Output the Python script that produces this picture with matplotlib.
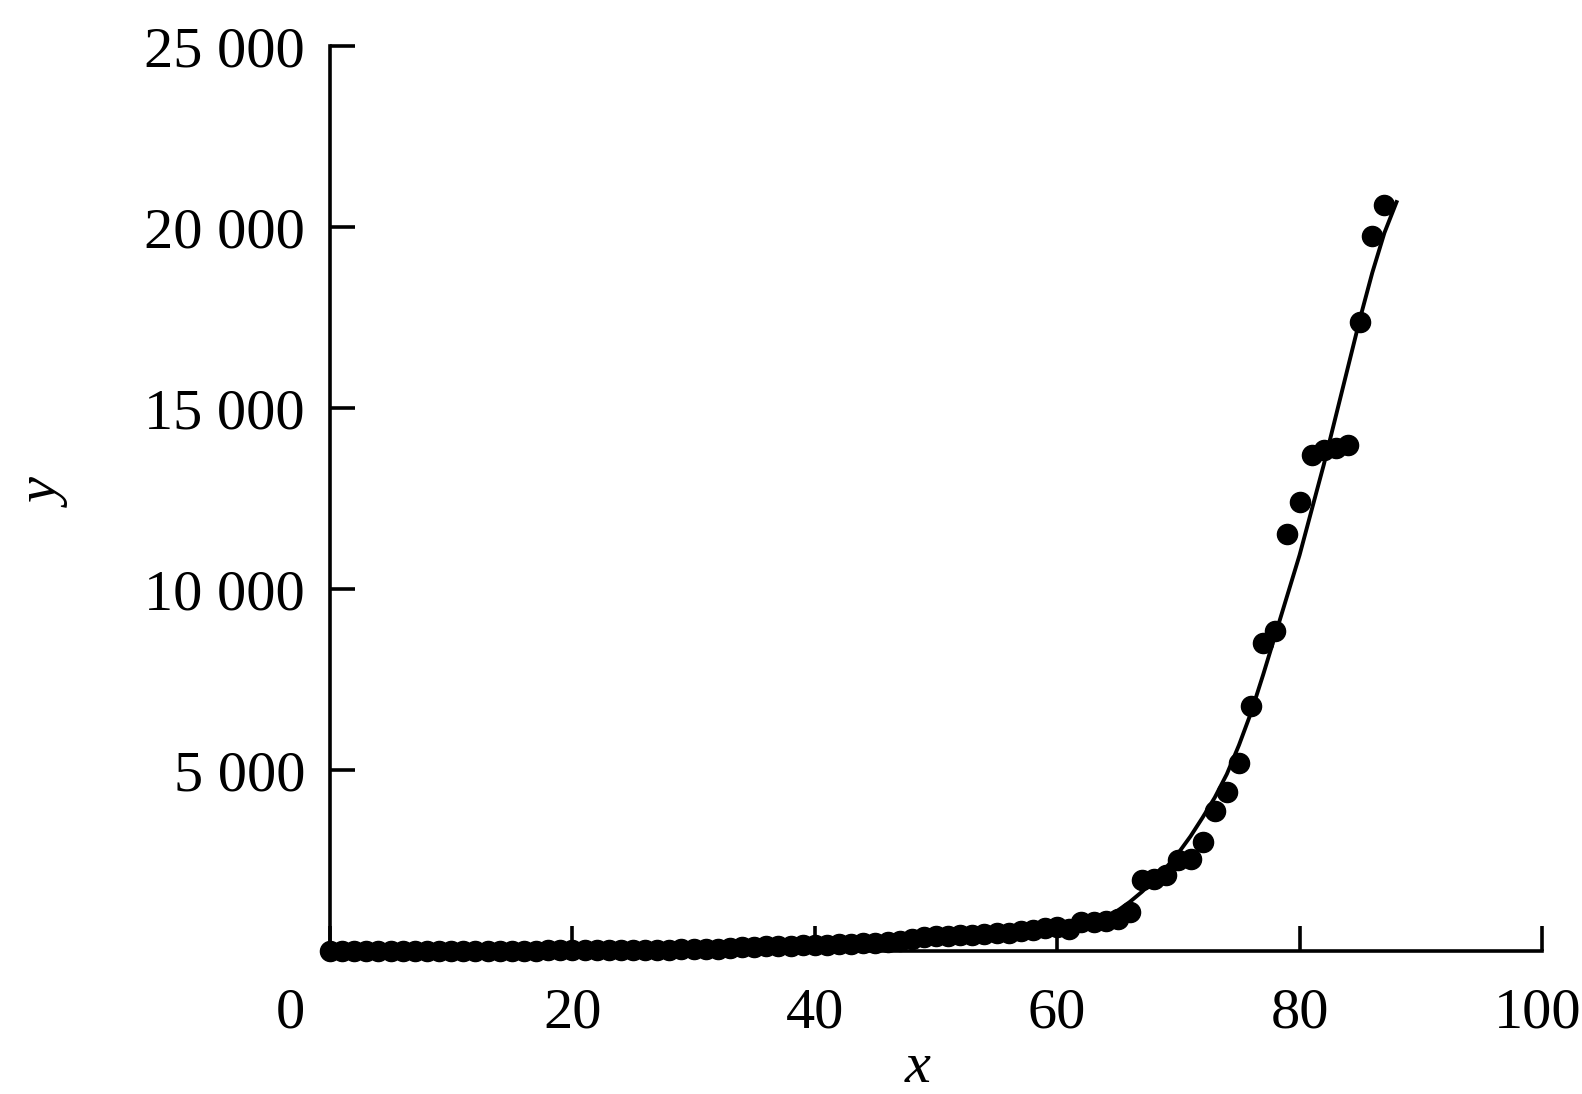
import matplotlib
matplotlib.use("Agg")
import matplotlib.pyplot as plt
import matplotlib.transforms as mtransforms

plt.rcParams['font.family'] = ['Liberation Serif', 'DejaVu Serif']

# observed points (x = 0 .. 87)
obs_x = list(range(0, 88))
obs_y = [0, 1, 2, 3, 4, 5, 6, 8, 9, 11,
         12, 14, 16, 18, 20, 22, 23, 25, 27, 28,
         30, 32, 35, 38, 40, 43, 46, 50, 53, 57,
         60, 70, 80, 100, 120, 130, 140, 150, 160, 170,
         180, 190, 200, 210, 220, 230, 250, 280, 340, 400,
         420, 430, 450, 460, 480, 500, 520, 560, 600, 640,
         685, 613, 823, 800, 850, 890, 1100, 1975, 2000, 2113,
         2528, 2560, 3033, 3880, 4400, 5200, 6780, 8510, 8860, 11525,
         12425, 13716, 13854, 13900, 13992, 17400, 19750, 20620]

# fitted curve
fit_x = [0, 10, 20, 30, 40, 45, 50, 55, 58, 60, 62, 63, 64, 65,
         66, 67, 68, 69, 70, 71, 72, 73, 74, 75, 76, 77,
         78, 79, 80, 81, 82, 83, 84, 85, 86, 87, 88]
fit_y = [0, 15, 35, 70, 180, 250, 400, 500, 600, 680, 780, 850, 960, 1130,
         1370, 1650, 1970, 2320, 2720, 3180, 3700, 4250, 4900, 5700, 6600, 7650,
         8750, 9850, 10950, 12200, 13450, 14800, 16150, 17500, 18750, 19850, 20700]

x_ticks = [0, 20, 40, 60, 80, 100]
x_labels = ['0', '20', '40', '60', '80', '100']
y_ticks = [5000, 10000, 15000, 20000, 25000]
y_labels = ['5 000', '10 000', '15 000', '20 000', '25 000']

fig = plt.figure(figsize=(15.82, 10.94), dpi=100)
ax = fig.add_axes([0.2086, 0.1303, 0.7661, 0.8273])

ax.plot(fit_x, fit_y, color='black', linewidth=2.8, zorder=2)
ax.plot(obs_x, obs_y, 'o', color='black', markersize=14.5, clip_on=False, zorder=3)

ax.set_xlim(0, 100)
ax.set_ylim(0, 25000)
ax.spines['top'].set_visible(False)
ax.spines['right'].set_visible(False)
for s in ('left', 'bottom'):
    ax.spines[s].set_linewidth(2.6)

ax.set_xticks(x_ticks)
ax.set_xticklabels(x_labels)
ax.set_yticks(y_ticks)
ax.set_yticklabels(y_labels)
ax.tick_params(axis='both', direction='in', length=18, width=2.6, labelsize=42)
ax.tick_params(axis='x', pad=26)
ax.tick_params(axis='y', pad=18)

# the origin label sits left of the axis corner, the last one a bit in
lbl0 = ax.get_xticklabels()[0]
lbl0.set_transform(lbl0.get_transform() + mtransforms.ScaledTranslation(-40 / 100, 0, fig.dpi_scale_trans))
lbl_last = ax.get_xticklabels()[-1]
lbl_last.set_transform(lbl_last.get_transform() + mtransforms.ScaledTranslation(-4 / 100, 0, fig.dpi_scale_trans))

ax.set_xlabel('x', fontsize=42, style='italic')
ax.set_ylabel('y', fontsize=42, style='italic')
ax.xaxis.set_label_coords(0.485, -0.100)
ax.yaxis.set_label_coords(-0.212, 0.505)

fig.savefig('out.png', dpi=100)
